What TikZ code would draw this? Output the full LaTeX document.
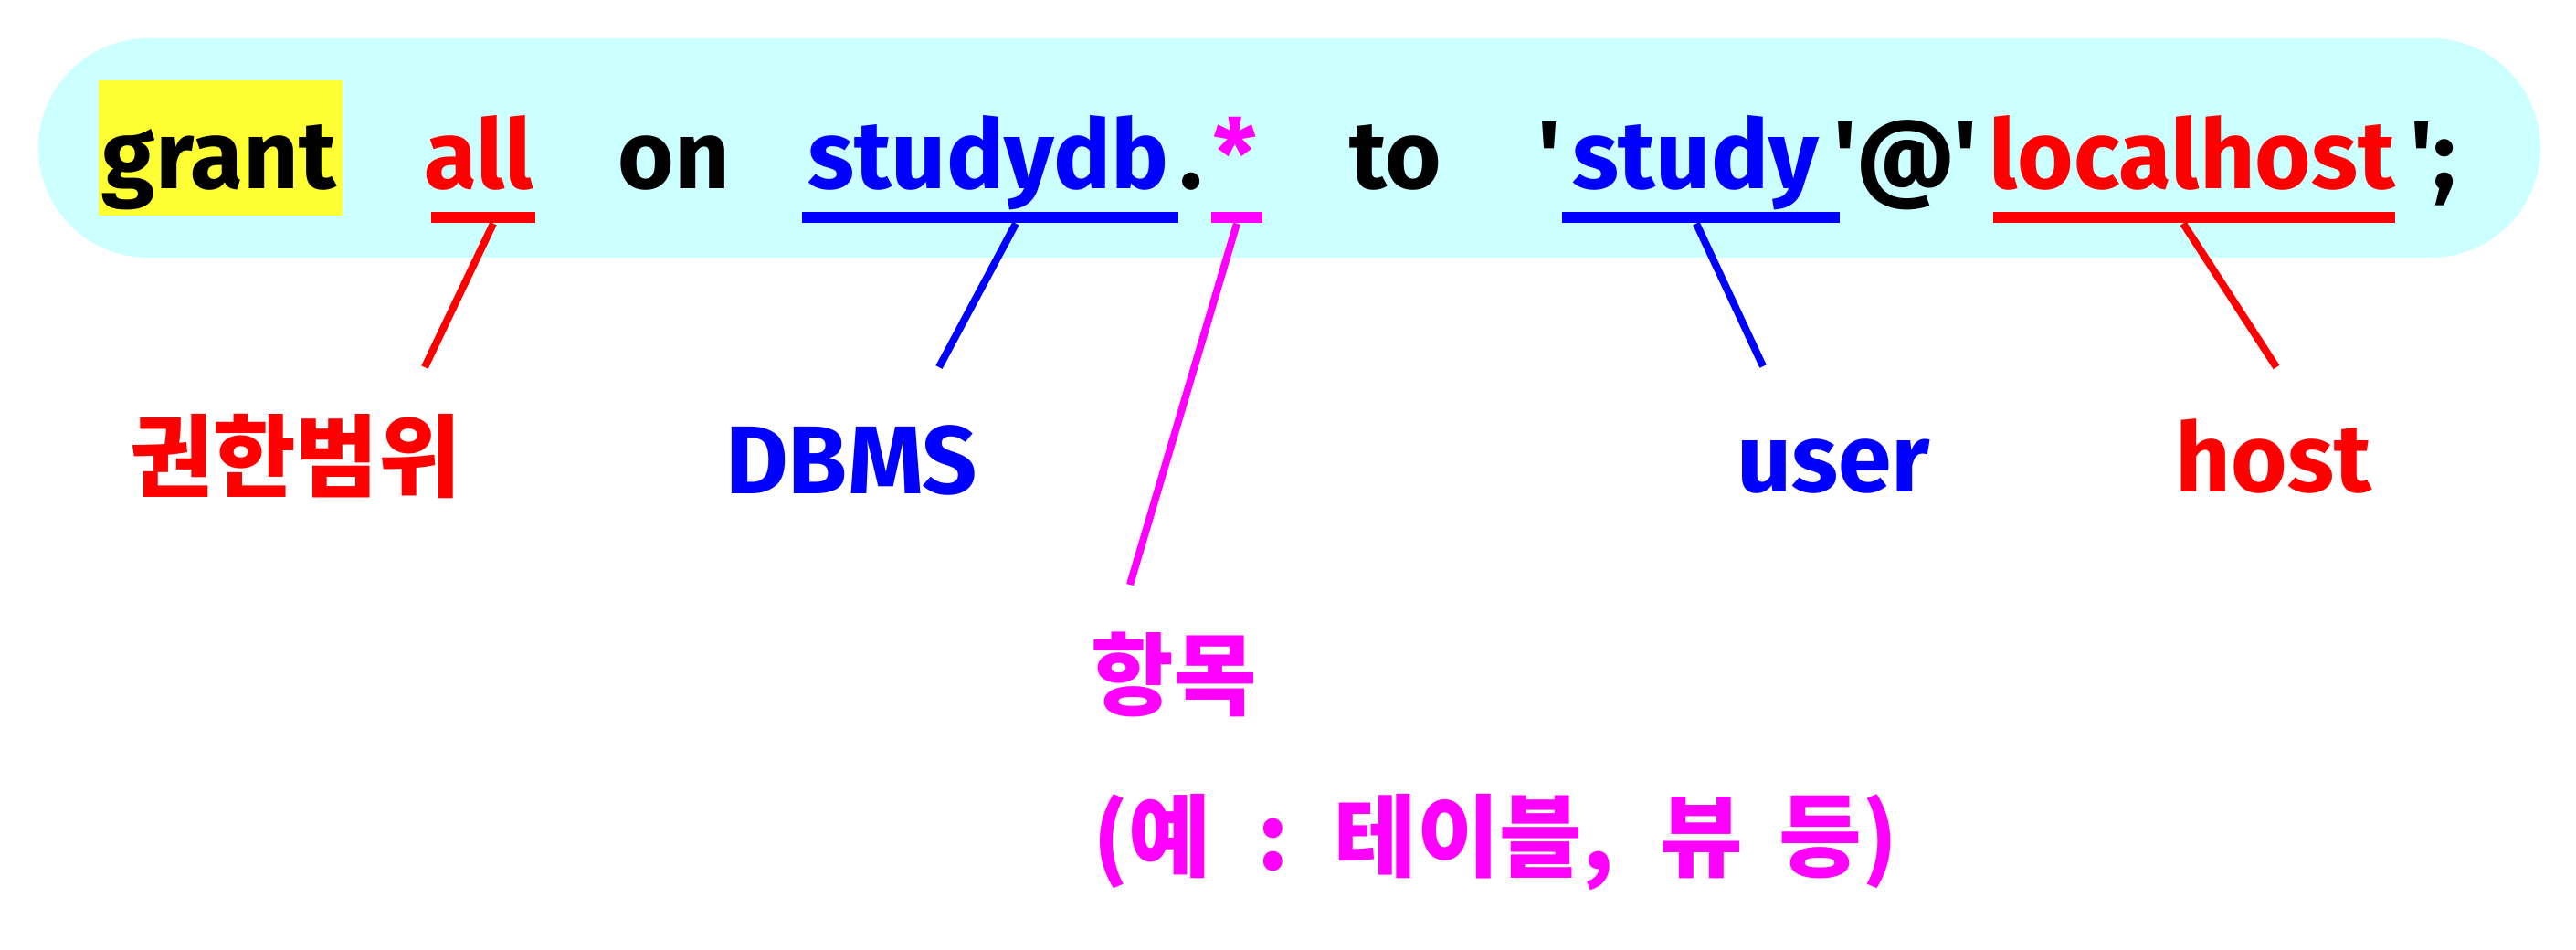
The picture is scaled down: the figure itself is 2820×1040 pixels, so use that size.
\documentclass[tikz,border=0pt]{standalone}
\usepackage{fontspec}
\setmainfont{Fira Sans}
\newfontfamily\kr{Noto Sans CJK KR}
\usepackage{xcolor}
\definecolor{barcyan}{HTML}{CCFFFF}
\definecolor{markyellow}{HTML}{FFFF33}
\definecolor{sqlred}{HTML}{FF0000}
\definecolor{sqlblue}{HTML}{0000FF}
\definecolor{sqlpink}{HTML}{FF00FF}
\newcommand{\sq}{\textquotesingle}

\begin{document}
\begin{tikzpicture}[x=0.01cm, y=-0.01cm,
    word/.style={anchor=base, inner sep=0pt, font=\fontsize{30}{36}\selectfont\bfseries},
    tag/.style={anchor=base, inner sep=0pt, font=\kr\fontsize{28}{34}\selectfont\bfseries},
    bar/.style={inner sep=0pt, minimum height=0.12cm, fill=#1},
    leader/.style={line width=2.3pt, draw=#1}]
      \useasboundingbox (0,0) rectangle (2820,1040);
      % Bar
      \fill[barcyan, rounded corners=1.2cm] (42,42) rectangle (2781,282);
      \fill[markyellow] (108,88) rectangle (375,236);
      % Statement
      \node[word] (grant) at (240,207) {grant};
      \node[word, text=sqlred] (all) at (524,207) {all};
      \node[word] (on) at (738,207) {on};
      \node[word, text=sqlblue] (db) at (1082,207) {studydb};
      \node[word] (dot) at (1304,207) {.};
      \node[word, text=sqlpink] (star) at (1352,207) {*};
      \node[word] (to) at (1528,207) {to};
      \node[word] (qa) at (1696,207) {\sq};
      \node[word, text=sqlblue] (user) at (1856,207) {study};
      \node[word] (at) at (2086,207) {\sq@\sq};
      \node[word, text=sqlred] (host) at (2400,207) {localhost};
      \node[word] (tail) at (2664,207) {\sq;};
      % Underlines
      \node[bar=sqlred, minimum width=1.14cm] (ulAll) at (529,238) {};
      \node[bar=sqlblue, minimum width=4.12cm] (ulDb) at (1084,238) {};
      \node[bar=sqlpink, minimum width=0.56cm] (ulStar) at (1354,238) {};
      \node[bar=sqlblue, minimum width=3.04cm] (ulUser) at (1862,238) {};
      \node[bar=sqlred, minimum width=4.40cm] (ulHost) at (2402,238) {};
      % Leader ends
      \coordinate (allEnd) at (465,402);
      \coordinate (dbEnd) at (1028,402);
      \coordinate (starEnd) at (1237,640);
      \coordinate (userEnd) at (1930,401);
      \coordinate (hostEnd) at (2492,402);
      % Leaders
      \draw[leader=sqlred] ([xshift=0.11cm]ulAll.south) -- (allEnd);
      \draw[leader=sqlblue] ([xshift=0.28cm]ulDb.south) -- (dbEnd);
      \draw[leader=sqlpink] (ulStar.south) -- (starEnd);
      \draw[leader=sqlblue] ([xshift=-0.05cm]ulUser.south) -- (userEnd);
      \draw[leader=sqlred] ([xshift=-0.12cm]ulHost.south) -- (hostEnd);
      % Labels
      \node[tag, text=sqlred] (scope) at (324,537) {권한범위};
      \node[word, text=sqlblue] (dbms) at (932,541) {DBMS};
      \node[word, text=sqlblue] (userTag) at (2007,539) {user};
      \node[word, text=sqlred] (hostTag) at (2489,539) {host};
      \node[tag, text=sqlpink] (item) at (1285,775) {항목};
      \node[tag, text=sqlpink] (example) at (1637,952)
        {(예\hspace{0.5cm}:\hspace{0.5cm}테이블,\hspace{0.5cm}뷰\hspace{0.4cm}등)};
    \end{tikzpicture}
\end{document}
